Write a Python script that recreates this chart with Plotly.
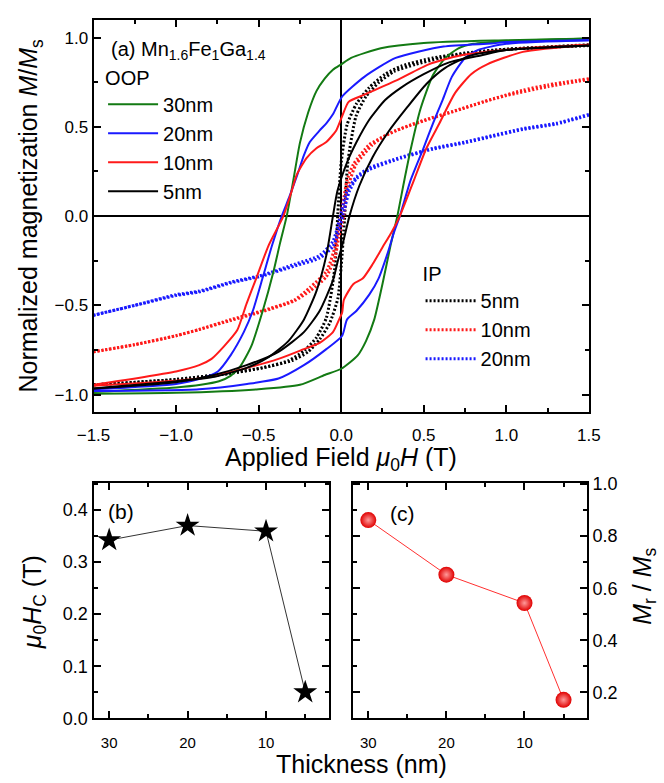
import plotly.graph_objects as go

# ---------------- panel (a): hysteresis loops ----------------
# OOP 30 nm (green)
g30_dn_x = [1.5, 1.0, 0.5, 0.24, 0.06, 0.0, -0.05, -0.1, -0.15, -0.2, -0.25, -0.29, -0.33, -0.37, -0.41, -0.475, -0.545, -0.61, -0.67, -0.74, -0.85, -1.0, -1.5]
g30_dn_y = [0.995, 0.985, 0.97, 0.94, 0.886, 0.85, 0.82, 0.77, 0.70, 0.58, 0.41, 0.2, 0.0, -0.15, -0.31, -0.53, -0.73, -0.84, -0.895, -0.925, -0.945, -0.96, -0.985]
g30_up_x = [-1.5, -1.0, -0.5, -0.25, -0.1, 0.0, 0.1, 0.15, 0.2, 0.25, 0.3, 0.34, 0.38, 0.42, 0.48, 0.556, 0.63, 0.71, 0.8, 1.0, 1.5]
g30_up_y = [-0.995, -0.99, -0.97, -0.945, -0.89, -0.855, -0.78, -0.70, -0.58, -0.38, -0.16, 0.0, 0.19, 0.37, 0.6, 0.79, 0.885, 0.94, 0.965, 0.98, 0.995]

# OOP 20 nm (blue)
b20_dn_x = [1.5, 1.0, 0.91, 0.62, 0.33, 0.14, 0.006, -0.05, -0.09, -0.13, -0.19, -0.226, -0.266, -0.313, -0.36, -0.419, -0.477, -0.535, -0.59, -0.67, -0.747, -0.85, -1.0, -1.5]
b20_dn_y = [0.985, 0.975, 0.967, 0.95, 0.886, 0.78, 0.67, 0.57, 0.52, 0.48, 0.415, 0.34, 0.23, 0.11, 0.0, -0.165, -0.35, -0.53, -0.65, -0.78, -0.87, -0.91, -0.94, -0.97]
b20_up_x = [-1.5, -0.86, -0.57, -0.38, -0.226, -0.09, 0.006, 0.035, 0.093, 0.17, 0.226, 0.284, 0.32, 0.355, 0.42, 0.498, 0.556, 0.614, 0.67, 0.75, 0.826, 1.0, 1.5]
b20_up_y = [-0.98, -0.97, -0.94, -0.91, -0.835, -0.745, -0.67, -0.58, -0.53, -0.44, -0.35, -0.2, -0.09, 0.0, 0.2, 0.38, 0.52, 0.65, 0.78, 0.886, 0.93, 0.965, 0.985]

# OOP 10 nm (red)
r10_dn_x = [1.5, 1.1, 0.72, 0.53, 0.335, 0.14, 0.045, 0.006, -0.03, -0.09, -0.15, -0.21, -0.27, -0.3, -0.35, -0.44, -0.515, -0.573, -0.63, -0.71, -0.785, -0.86, -1.0, -1.5]
r10_dn_y = [0.96, 0.94, 0.90, 0.85, 0.76, 0.68, 0.64, 0.56, 0.48, 0.415, 0.38, 0.325, 0.23, 0.14, 0.0, -0.165, -0.35, -0.49, -0.64, -0.73, -0.80, -0.835, -0.87, -0.945]
r10_up_x = [-1.5, -0.86, -0.57, -0.38, -0.226, -0.13, -0.05, -0.013, 0.006, 0.016, 0.074, 0.13, 0.19, 0.247, 0.305, 0.355, 0.44, 0.516, 0.595, 0.69, 0.787, 0.884, 1.1, 1.5]
r10_up_y = [-0.95, -0.91, -0.85, -0.80, -0.745, -0.71, -0.65, -0.58, -0.54, -0.47, -0.38, -0.35, -0.27, -0.18, -0.09, 0.0, 0.2, 0.38, 0.52, 0.69, 0.795, 0.85, 0.92, 0.96]

# OOP 5 nm (black)
k5_dn_x = [1.5, 1.0, 0.845, 0.65, 0.5, 0.363, 0.266, 0.17, 0.093, 0.035, -0.023, -0.05, -0.09, -0.15, -0.226, -0.32, -0.44, -0.573, -0.766, -1.0, -1.5]
k5_dn_y = [0.955, 0.93, 0.90, 0.86, 0.795, 0.72, 0.65, 0.54, 0.415, 0.3, 0.14, 0.0, -0.22, -0.42, -0.58, -0.70, -0.79, -0.85, -0.90, -0.925, -0.965]
k5_up_x = [-1.5, -1.0, -0.77, -0.573, -0.38, -0.226, -0.13, -0.05, -0.02, 0.016, 0.05, 0.11, 0.19, 0.284, 0.4, 0.516, 0.63, 0.787, 1.0, 1.5]
k5_up_y = [-0.965, -0.93, -0.89, -0.835, -0.76, -0.65, -0.53, -0.36, -0.25, -0.13, 0.0, 0.17, 0.33, 0.47, 0.61, 0.74, 0.83, 0.90, 0.93, 0.955]

# IP 5 nm (black dotted)
ip5_dn_x = [1.5, 0.93, 0.75, 0.556, 0.363, 0.266, 0.17, 0.093, 0.035, 0.0, -0.02, -0.04, -0.09, -0.15, -0.226, -0.32, -0.477, -0.67, -1.0, -1.5]
ip5_dn_y = [0.96, 0.93, 0.913, 0.886, 0.84, 0.795, 0.72, 0.63, 0.51, 0.3, 0.02, -0.3, -0.57, -0.68, -0.755, -0.81, -0.85, -0.88, -0.915, -0.945]
ip5_up_x = [-1.5, -1.0, -0.67, -0.48, -0.3, -0.2, -0.13, -0.07, -0.02, 0.0, 0.02, 0.04, 0.09, 0.15, 0.23, 0.32, 0.45, 0.6, 0.8, 1.0, 1.5]
ip5_up_y = [-0.945, -0.915, -0.88, -0.85, -0.81, -0.76, -0.69, -0.60, -0.46, -0.28, -0.02, 0.3, 0.56, 0.67, 0.75, 0.81, 0.85, 0.885, 0.915, 0.935, 0.955]

# IP 10 nm (red dotted)
ip10_dn_x = [1.5, 1.25, 1.1, 0.93, 0.747, 0.556, 0.363, 0.266, 0.17, 0.074, 0.035, 0.016, -0.005, -0.02, -0.035, -0.09, -0.19, -0.284, -0.477, -0.67, -0.86, -1.0, -1.25, -1.5]
ip10_dn_y = [0.77, 0.735, 0.705, 0.66, 0.605, 0.55, 0.49, 0.45, 0.40, 0.29, 0.2, 0.1, 0.0, -0.08, -0.165, -0.31, -0.40, -0.47, -0.53, -0.58, -0.635, -0.67, -0.72, -0.76]
ip10_up_x = [-1.5, -1.25, -1.0, -0.86, -0.67, -0.477, -0.284, -0.19, -0.09, -0.035, -0.015, 0.015, 0.03, 0.05, 0.09, 0.19, 0.284, 0.477, 0.67, 0.86, 1.0, 1.25, 1.5]
ip10_up_y = [-0.76, -0.72, -0.67, -0.635, -0.585, -0.535, -0.475, -0.42, -0.34, -0.22, -0.12, 0.0, 0.1, 0.19, 0.29, 0.40, 0.46, 0.53, 0.585, 0.64, 0.675, 0.725, 0.765]

# IP 20 nm (blue dotted)
ip20_dn_x = [1.5, 1.3, 1.1, 0.91, 0.747, 0.556, 0.363, 0.17, 0.093, 0.035, 0.0, -0.05, -0.13, -0.284, -0.477, -0.67, -0.86, -1.0, -1.25, -1.5]
ip20_dn_y = [0.57, 0.52, 0.49, 0.45, 0.415, 0.38, 0.33, 0.27, 0.22, 0.14, 0.02, -0.14, -0.22, -0.27, -0.33, -0.37, -0.42, -0.44, -0.5, -0.555]
ip20_up_x = [-1.5, -1.25, -1.0, -0.86, -0.67, -0.477, -0.284, -0.13, -0.05, -0.01, 0.02, 0.05, 0.093, 0.17, 0.363, 0.556, 0.747, 0.91, 1.1, 1.3, 1.5]
ip20_up_y = [-0.555, -0.5, -0.445, -0.425, -0.375, -0.335, -0.28, -0.235, -0.17, -0.07, 0.04, 0.14, 0.21, 0.26, 0.325, 0.375, 0.41, 0.445, 0.485, 0.515, 0.565]

# ---------------- panels (b) and (c) ----------------
thickness = [30, 20, 10, 5]
coercive_field = [0.342, 0.37, 0.359, 0.05]
remanence_ratio = [0.862, 0.652, 0.543, 0.171]

FONT = "Arial, Liberation Sans, sans-serif"
GREEN, BLUE, RED, BLACK = "#137a13", "#1a1aff", "#ff1a1a", "#000000"

fig = go.Figure()


def loop(xd, yd, xu, yu):
    return xd + [None] + xu, yd + [None] + yu


oop = [("30nm", GREEN, g30_dn_x, g30_dn_y, g30_up_x, g30_up_y),
       ("20nm", BLUE, b20_dn_x, b20_dn_y, b20_up_x, b20_up_y),
       ("10nm", RED, r10_dn_x, r10_dn_y, r10_up_x, r10_up_y),
       ("5nm", BLACK, k5_dn_x, k5_dn_y, k5_up_x, k5_up_y)]
ip = [("5nm", BLACK, ip5_dn_x, ip5_dn_y, ip5_up_x, ip5_up_y),
      ("10nm", RED, ip10_dn_x, ip10_dn_y, ip10_up_x, ip10_up_y),
      ("20nm", BLUE, ip20_dn_x, ip20_dn_y, ip20_up_x, ip20_up_y)]

for name, col, xd, yd, xu, yu in ip:
    x, y = loop(xd, yd, xu, yu)
    fig.add_trace(go.Scatter(x=x, y=y, mode="lines", name=name, legend="legend2",
                             line=dict(color=col, width=3, dash="2px,2px", shape="spline", smoothing=0.6),
                             xaxis="x", yaxis="y"))
for name, col, xd, yd, xu, yu in oop:
    x, y = loop(xd, yd, xu, yu)
    fig.add_trace(go.Scatter(x=x, y=y, mode="lines", name=name, legend="legend",
                             line=dict(color=col, width=2, shape="spline", smoothing=0.6),
                             xaxis="x", yaxis="y"))

fig.add_trace(go.Scatter(x=thickness, y=coercive_field, mode="lines+markers", showlegend=False,
                         line=dict(color="#333333", width=1),
                         marker=dict(symbol="star", size=18, color="black", line=dict(width=0)),
                         xaxis="x2", yaxis="y2"))
fig.add_trace(go.Scatter(x=thickness, y=remanence_ratio, mode="lines+markers", showlegend=False,
                         line=dict(color="#ff3030", width=1),
                         marker=dict(symbol="circle", size=16, color="#e00000",
                                     gradient=dict(type="radial", color="#ff9a9a"), line=dict(width=0)),
                         xaxis="x3", yaxis="y3"))

W, H = 664, 783


def px(x):
    return x / W


def py(y):
    return 1 - y / H


axis_common = dict(showline=True, linecolor="black", linewidth=2, mirror="allticks",
                   ticks="inside", ticklen=7, tickwidth=1.5, tickcolor="black",
                   showgrid=False, color="black",
                   minor=dict(ticks="inside", ticklen=4, tickwidth=1.5, tickcolor="black", showgrid=False))

fig.update_layout(
    width=W, height=H, margin=dict(l=0, r=0, t=0, b=0),
    paper_bgcolor="white", plot_bgcolor="white",
    font=dict(family=FONT, color="black"),
    xaxis=dict(domain=[px(80), px(598)], anchor="y", range=[-1.5, 1.5], dtick=0.5, tick0=0,
               tickformat=".1f", tickfont=dict(size=17), zeroline=True, zerolinecolor="black",
               zerolinewidth=1.5, ticklabelstandoff=6, **axis_common),
    yaxis=dict(domain=[py(414), py(12)], anchor="x", range=[-1.1, 1.1], dtick=0.5, tick0=0,
               tickformat=".1f", tickfont=dict(size=17), zeroline=True, zerolinecolor="black",
               zerolinewidth=1.5, **axis_common),
    xaxis2=dict(domain=[px(80), px(326)], anchor="y2", range=[32, 2], dtick=10, tick0=0,
                tickfont=dict(size=15), zeroline=False, ticklabelstandoff=10, **axis_common),
    yaxis2=dict(domain=[py(727), py(486)], anchor="x2", range=[0, 0.452], dtick=0.1, tick0=0,
                tickformat=".1f", tickfont=dict(size=18), zeroline=False, **axis_common),
    xaxis3=dict(domain=[px(351), px(596)], anchor="y3", range=[32, 2], dtick=10, tick0=0,
                tickfont=dict(size=15), zeroline=False, ticklabelstandoff=10, **axis_common),
    yaxis3=dict(domain=[py(727), py(486)], anchor="x3", side="right", range=[0.1, 1.005], dtick=0.2,
                tick0=0, tickformat=".1f", tickfont=dict(size=18), zeroline=False, **axis_common),
    legend=dict(x=px(90), y=py(52), xanchor="left", yanchor="top", bgcolor="rgba(0,0,0,0)",
                borderwidth=0, font=dict(size=20), itemwidth=50, tracegroupgap=0,
                title=dict(text="OOP", font=dict(size=20))),
    legend2=dict(x=px(422), y=py(253), xanchor="left", yanchor="top", bgcolor="rgba(0,0,0,0)",
                 borderwidth=0, font=dict(size=20), itemwidth=50, tracegroupgap=0,
                 title=dict(text="IP", font=dict(size=20))),
)

fig.layout.xaxis.minor.update(dtick=0.25, tick0=0)
fig.layout.yaxis.minor.update(dtick=0.25, tick0=0)
fig.layout.xaxis2.minor.update(dtick=5, tick0=0)
fig.layout.xaxis3.minor.update(dtick=5, tick0=0)
fig.layout.yaxis2.minor.update(dtick=0.05, tick0=0)
fig.layout.yaxis3.minor.update(dtick=0.1, tick0=0)

ann = [
    dict(text="(a) Mn<sub>1.6</sub>Fe<sub>1</sub>Ga<sub>1.4</sub>", x=px(96), y=py(44),
         xanchor="left", yanchor="middle", font=dict(size=20)),
    dict(text="(b)", x=px(93), y=py(515), xanchor="left", yanchor="middle", font=dict(size=21)),
    dict(text="(c)", x=px(388), y=py(517), xanchor="left", yanchor="middle", font=dict(size=21)),
    dict(text="Applied Field <i>μ</i><sub>0</sub><i>H</i> (T)", x=px(339), y=py(462),
         xanchor="center", yanchor="middle", font=dict(size=25)),
    dict(text="Normalized magnetization <i>M</i>/<i>M</i><sub>s</sub>", x=px(14), y=py(212),
         xanchor="center", yanchor="middle", textangle=-90, font=dict(size=25)),
    dict(text="<i>μ</i><sub>0</sub><i>H</i><sub>C</sub> (T)", x=px(18), y=py(608),
         xanchor="center", yanchor="middle", textangle=-90, font=dict(size=25)),
    dict(text="<i>M</i><sub>r</sub> / <i>M</i><sub>s</sub>", x=px(656), y=py(592),
         xanchor="center", yanchor="middle", textangle=-90, font=dict(size=25)),
    dict(text="Thickness (nm)", x=px(360), y=py(774), xanchor="center", yanchor="middle",
         font=dict(size=25)),
]
for a in ann:
    fig.add_annotation(xref="paper", yref="paper", showarrow=False, **a)

fig.write_html("out.html")
